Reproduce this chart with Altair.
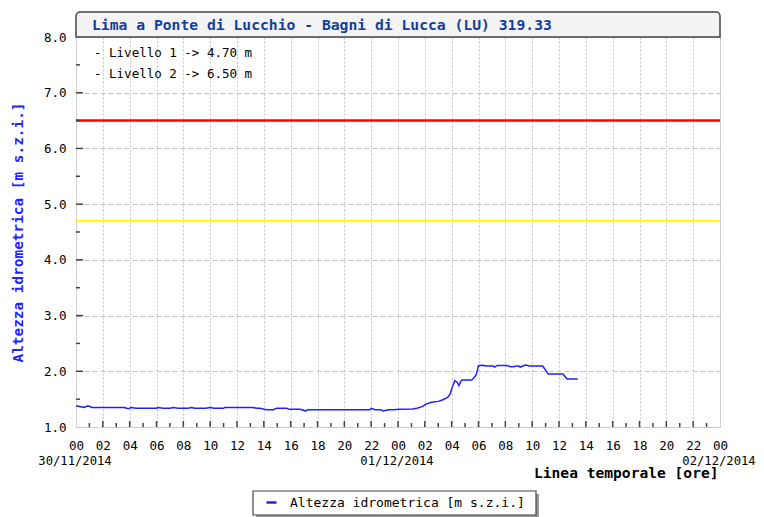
import altair as alt
import pandas as pd

# ---------------- data ----------------
title_text = "Lima a Ponte di Lucchio - Bagni di Lucca (LU) 319.33"
series_name = "Altezza idrometrica [m s.z.i.]"
x_title = "Linea temporale [ore]"

# hours since 30/11/2014 00:00
hours = [0.0, 0.6, 0.9, 1.2, 3.6, 3.9, 4.1, 4.5, 6.0, 6.1, 6.5, 7.0, 7.25, 7.6,
         8.35, 8.6, 8.85, 9.7, 9.97, 10.3, 10.97, 11.1, 13.2, 13.46, 13.7, 14.2,
         14.7, 14.95, 15.7, 15.9, 16.7, 17.1, 17.3, 21.9, 22.0, 22.3, 22.7, 22.9,
         23.3, 23.7, 24.0, 25.1, 25.4, 25.8, 26.1, 26.5, 27.0, 27.3, 27.7, 27.9,
         28.05, 28.24, 28.42, 28.54, 28.67, 28.77, 29.49, 29.62, 29.82, 29.92,
         30.0, 30.3, 30.6, 31.1, 31.2, 31.4, 32.1, 32.4, 32.6, 32.8, 33.0, 33.1,
         33.5, 33.8, 34.7, 34.8, 35.2, 36.3, 36.6, 37.4]
levels = [1.38, 1.35, 1.38, 1.35, 1.35, 1.33, 1.35, 1.335, 1.335, 1.35, 1.335,
          1.335, 1.35, 1.335, 1.335, 1.35, 1.335, 1.335, 1.35, 1.335, 1.335, 1.35,
          1.35, 1.335, 1.335, 1.31, 1.31, 1.335, 1.335, 1.317, 1.317, 1.29, 1.31,
          1.31, 1.335, 1.31, 1.31, 1.287, 1.31, 1.31, 1.32, 1.325, 1.335, 1.365,
          1.41, 1.445, 1.46, 1.485, 1.53, 1.60, 1.72, 1.83, 1.80, 1.745, 1.815,
          1.845, 1.845, 1.875, 1.935, 2.02, 2.10, 2.11, 2.095, 2.095, 2.076, 2.105,
          2.105, 2.082, 2.082, 2.094, 2.094, 2.076, 2.112, 2.094, 2.094, 2.09,
          1.95, 1.95, 1.86, 1.86]

threshold_names = ["Livello 1", "Livello 2"]
threshold_values = [4.70, 6.50]
threshold_colors = ["#ffff00", "#ff0000"]
threshold_widths = [2, 2.5]

x_label_hours = list(range(0, 49, 2))
x_minor_hours = list(range(1, 48, 2))
date_hours = [0, 24, 48]
date_labels = ["30/11/2014", "01/12/2014", "02/12/2014"]
y_label_values = [1, 2, 3, 4, 5, 6, 7, 8]
y_minor_values = [1.5, 2.5, 3.5, 4.5, 5.5, 6.5, 7.5]

# ---------------- styling ----------------
W, H = 644, 390
MONO = "DejaVu Sans Mono"
FRAME = "#444444"
GRID = "#c4c4c4"
LINE_BLUE = "#2020ff"

xscale = alt.Scale(domain=[0, 48], nice=False, zero=False)
yscale = alt.Scale(domain=[1, 8], nice=False, zero=False)

hh = "(datum.value % 24 < 10 ? '0' : '') + (datum.value % 24)"

x_axis = alt.Axis(
    values=x_label_hours, labelExpr=hh, ticks=False, domain=False,
    grid=True, gridDash=[2, 2], gridColor=GRID,
    labelFont=MONO, labelFontSize=12.5, labelColor="#000", labelPadding=12,
    labelOverlap=False, labelSeparation=0, labelFlush=False, labelBound=False,
    title=x_title, titleFont=MONO, titleFontWeight="bold", titleFontSize=14.6,
    titleColor="#000", titleAlign="right", titleBaseline="middle",
    titleX=W - 2, titleY=46,
)
y_axis = alt.Axis(
    values=y_label_values, format=".1f", ticks=False, domain=False,
    grid=True, gridDash=[5, 3], gridColor=GRID,
    labelFont=MONO, labelFontSize=12.5, labelColor="#000", labelPadding=10,
    labelOverlap=False,
    title=series_name, titleFont=MONO, titleFontWeight="bold", titleFontSize=14.4,
    titleColor="#2222ff", titleAngle=270, titleAlign="center", titleBaseline="middle",
    titleX=-58, titleY=H / 2,
)

X = lambda f: alt.X(f, scale=xscale, axis=x_axis)
Y = lambda f: alt.Y(f, scale=yscale, axis=y_axis)

df = pd.DataFrame({"ore": hours, "livello": levels, "serie": [series_name] * len(hours)})

line = alt.Chart(df).mark_line(strokeWidth=1.5).encode(
    x=X("ore:Q"),
    y=Y("livello:Q"),
    color=alt.Color(
        "serie:N",
        scale=alt.Scale(domain=[series_name], range=[LINE_BLUE]),
        legend=alt.Legend(
            title=None, orient="none", legendX=189, legendY=459,
            symbolType="stroke", symbolStrokeWidth=2.5, symbolSize=100,
            symbolStrokeColor=LINE_BLUE,
            labelFont=MONO, labelFontSize=13, labelColor="#000", labelLimit=0,
            labelOffset=12, padding=0,
        ),
    ),
)

# title box
title_df = pd.DataFrame({"t": [title_text]})
title_box = alt.Chart(title_df).mark_rect(
    fill="#f4f4f4", stroke=FRAME, strokeWidth=1.5,
    cornerRadiusTopLeft=4, cornerRadiusTopRight=4, clip=False
).encode(x=alt.value(0), x2=alt.value(W), y=alt.value(-25), y2=alt.value(0))
title_mark = alt.Chart(title_df).mark_text(
    align="left", baseline="middle", font=MONO, fontWeight="bold",
    fontSize=14.7, color="#123f9c", clip=False
).encode(x=alt.value(16), y=alt.value(-11), text="t:N")

# legend frame with shadow
legend_shadow = alt.Chart(title_df).mark_rect(fill="#9a9a9a", clip=False).encode(
    x=alt.value(180), x2=alt.value(463), y=alt.value(457), y2=alt.value(481))
legend_box = alt.Chart(title_df).mark_rect(
    fill="#ffffff", stroke=FRAME, strokeWidth=1.2, clip=False).encode(
    x=alt.value(177), x2=alt.value(460), y=alt.value(454), y2=alt.value(478))

# date labels under the midnight ticks
date_df = pd.DataFrame({"ore": date_hours, "data": date_labels})
date_text = alt.Chart(date_df).mark_text(
    align="center", baseline="middle", font=MONO, fontSize=12.2, color="#000",
    dx=-1, clip=False).encode(
    x=X("ore:Q"), y=alt.value(H + 34), text="data:N")

# threshold lines
thr_layers = []
for name, val, col, w in zip(threshold_names, threshold_values, threshold_colors, threshold_widths):
    d = pd.DataFrame({"livello": [val]})
    thr_layers.append(
        alt.Chart(d).mark_rule(color=col, strokeWidth=w).encode(y=Y("livello:Q"))
    )

# threshold annotations
ann_layers = []
for i, (name, val) in enumerate(zip(threshold_names, threshold_values)):
    d = pd.DataFrame({"txt": [f"- {name} -> {val:.2f} m"]})
    ann_layers.append(
        alt.Chart(d).mark_text(align="left", baseline="middle", font=MONO,
                               fontSize=12.5, color="#000").encode(
            x=alt.value(18), y=alt.value(16 + 21 * i), text="txt:N")
    )

# inward ticks
xt_major = alt.Chart(pd.DataFrame({"ore": x_label_hours[1:-1]})).mark_rule(
    color=FRAME, strokeWidth=1.5).encode(
    x=X("ore:Q"), y=alt.value(H), y2=alt.value(H - 6))
xt_minor = alt.Chart(pd.DataFrame({"ore": x_minor_hours})).mark_rule(
    color=FRAME, strokeWidth=1.5).encode(
    x=X("ore:Q"), y=alt.value(H), y2=alt.value(H - 4))
yt_major = alt.Chart(pd.DataFrame({"livello": y_label_values[1:-1]})).mark_rule(
    color=FRAME, strokeWidth=1.5).encode(
    y=Y("livello:Q"), x=alt.value(0), x2=alt.value(7))
yt_minor = alt.Chart(pd.DataFrame({"livello": y_minor_values})).mark_rule(
    color=FRAME, strokeWidth=1.5).encode(
    y=Y("livello:Q"), x=alt.value(0), x2=alt.value(4))

chart = alt.layer(
    line, title_box, title_mark, legend_shadow, legend_box, date_text,
    *thr_layers, xt_major, xt_minor, yt_major, yt_minor, *ann_layers
).properties(
    width=W, height=H,
    autosize=alt.AutoSizeParams(type="none"),
    padding={"left": 68, "top": 29, "right": 36, "bottom": 90},
).configure_view(
    stroke=FRAME, strokeWidth=2
).configure_axis(
    labelOverlap=False
).configure(background="#ffffff")

chart.save("out.html", embed_options={"renderer": "svg", "actions": False})
